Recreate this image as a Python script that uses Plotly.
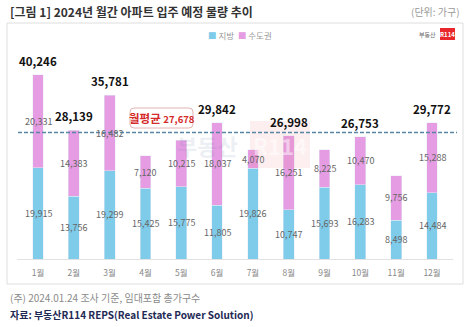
import plotly.graph_objects as go

months = ["1월", "2월", "3월", "4월", "5월", "6월", "7월", "8월", "9월", "10월", "11월", "12월"]
local = [19915, 13756, 19299, 15425, 15775, 11805, 19826, 10747, 15693, 16283, 8498, 14484]
capital = [20331, 14383, 16482, 7120, 10215, 18037, 4070, 16251, 8225, 10470, 9756, 15288]
show_total = [True, True, True, False, False, True, False, True, False, True, False, True]
avg_value = 27678

BLUE = "#7ecbea"
PINK = "#e59ce2"
W, H = 474, 327
L, R, T, B = 17, 21, 50, 68
pw, ph = W - L - R, H - T - B


def px(x):
    return (x - L) / pw


def py(y):
    return (H - B - y) / ph


totals = [a + b for a, b in zip(local, capital)]
YMAX = 45710

fig = go.Figure()
fig.add_trace(go.Bar(x=months, y=local, name="지방", marker_color=BLUE, width=0.3, hoverinfo="skip"))
fig.add_trace(go.Bar(x=months, y=capital, name="수도권", marker_color=PINK, width=0.3, hoverinfo="skip"))

ann = []
font = "Noto Sans CJK KR"
for m, a, b, t, s in zip(months, local, capital, totals, show_total):
    ann.append(dict(x=m, y=a / 2, text=f"{a:,}", showarrow=False, xref="x", yref="y",
                    xanchor="center", yanchor="middle",
                    font=dict(size=9, color="#666", family=font)))
    ann.append(dict(x=m, y=a + b / 2, text=f"{b:,}", showarrow=False, xref="x", yref="y",
                    xanchor="center", yanchor="middle",
                    font=dict(size=9, color="#666", family=font)))
    if s:
        ann.append(dict(x=m, y=t, text=f"<b>{t:,}</b>", showarrow=False, xref="x", yref="y",
                        xanchor="center", yanchor="bottom", yshift=4,
                        font=dict(size=11.5, color="#111", family=font)))


def pa(x, y, text, size, color, xanchor="center", opacity=1):
    ann.append(dict(x=px(x), y=py(y), xref="paper", yref="paper", xanchor=xanchor, yanchor="middle",
                    showarrow=False, text=text, opacity=opacity,
                    font=dict(size=size, color=color, family=font)))


# average label
pa(161.5, 118, f"<b>월평균</b> <b><span style='font-size:9.5px'>{avg_value:,}</span></b>", 11.5, "#d42a2a")
# title and notes
pa(8, 12, "<b>[그림 1] 2024년 월간 아파트 입주 예정 물량 추이</b>", 12, "#333", "left")
pa(462, 12, "(단위: 가구)", 10, "#9a9a9a", "right")
pa(8, 297, "(주) 2024.01.24 조사 기준, 임대포함 총가구수", 10, "#8a8a8a", "left")
pa(8, 314, "<b>자료: 부동산R114 REPS(Real Estate Power Solution)</b>", 10, "#1e2a55", "left")
# legend
pa(206, 35, f"<span style='color:{BLUE}'>■</span> 지방  <span style='color:{PINK}'>■</span> 수도권",
   8.5, "#999", "left")
# logo
pa(438, 34, "부동산", 6, "#666", "right")
pa(447.5, 34, "<b>R114</b>", 6, "white")
# watermark
pa(207, 145, "<b>부동산</b>", 22, "#6b7fa0", opacity=0.12)
pa(280, 145, "<b>R114</b>", 22, "#ffffff", opacity=0.5)

shapes = [
    dict(type="rect", xref="paper", yref="paper", x0=px(7), x1=px(463), y0=py(23), y1=py(284),
         line=dict(color="#dedede", width=1), fillcolor="rgba(0,0,0,0)", layer="below"),
    dict(type="rect", xref="paper", yref="paper", x0=px(440), x1=px(455), y0=py(28), y1=py(40),
         line=dict(width=0), fillcolor="#e8262c"),
    dict(type="rect", xref="paper", yref="paper", x0=px(250), x1=px(310), y0=py(121), y1=py(168),
         line=dict(width=0), fillcolor="rgba(240,120,130,0.12)", layer="above"),
    dict(type="line", xref="paper", yref="y", x0=px(18), x1=px(457), y0=avg_value, y1=avg_value,
         line=dict(color="#5a86a6", width=1.6, dash="4px,2px")),
]
# rounded box for average label
x0, x1, y0, y1, r = px(130), px(193), py(108), py(128), 4
rx, ry = r / pw, r / ph
path = (f"M {x0+rx},{y0} L {x1-rx},{y0} Q {x1},{y0} {x1},{y0-ry} L {x1},{y1+ry} Q {x1},{y1} {x1-rx},{y1} "
        f"L {x0+rx},{y1} Q {x0},{y1} {x0},{y1+ry} L {x0},{y0-ry} Q {x0},{y0} {x0+rx},{y0} Z")
shapes.append(dict(type="path", xref="paper", yref="paper", path=path,
                   line=dict(color="#e2b3b3", width=1), fillcolor="white"))

fig.update_layout(
    width=W, height=H, margin=dict(l=L, r=R, t=T, b=B),
    barmode="stack", showlegend=False,
    paper_bgcolor="white", plot_bgcolor="white",
    annotations=ann, shapes=shapes,
    font=dict(family=font),
    xaxis=dict(showgrid=False, showline=True, linecolor="#e2e2e2", linewidth=1, ticks="",
               ticklabelstandoff=6,
               tickfont=dict(size=8.5, color="#888", family=font), fixedrange=True),
    yaxis=dict(range=[0, YMAX], visible=False, showgrid=False, zeroline=False, fixedrange=True),
)
fig.write_html("out.html", config={"displayModeBar": False})
